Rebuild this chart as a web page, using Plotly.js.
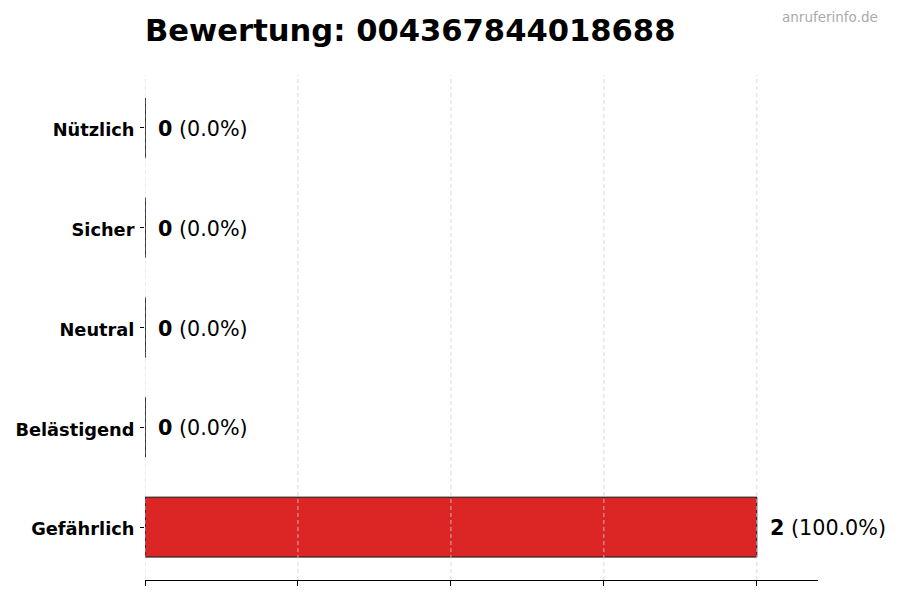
<!DOCTYPE html>
<html>
<head>
<meta charset="utf-8">
<script src="https://cdn.plot.ly/plotly-3.0.1.min.js"></script>
<style>
  body { margin: 0; background: #fff; }
  #chart { width: 900px; height: 600px; }
</style>
</head>
<body>
<div id="chart"></div>
<script>
// ratings for one phone number, bottom category first
var categories = ['Gefährlich', 'Belästigend', 'Neutral', 'Sicher', 'Nützlich'];
var counts = [2, 0, 0, 0, 0];
var barColors = ['#dc2626', '#dc2626', '#dc2626', '#dc2626', '#dc2626'];
var gridTicks = [0, 0.5, 1, 1.5, 2];
var titleText = 'Bewertung: 004367844018688';
var watermark = 'anruferinfo.de';

var total = counts.reduce(function (a, b) { return a + b; }, 0);
var font = 'DejaVu Sans, Verdana, sans-serif';

var trace = {
  type: 'bar',
  orientation: 'h',
  y: categories,
  x: counts,
  width: 0.6,
  marker: { color: barColors, line: { color: '#111', width: 1 } },
  hoverinfo: 'skip'
};

// value labels right of each bar
var annotations = categories.map(function (c, i) {
  var pct = total ? (counts[i] / total * 100).toFixed(1) : '0.0';
  return {
    x: counts[i], y: c, xref: 'x', yref: 'y',
    text: '<b>' + counts[i] + '</b> (' + pct + '%)',
    showarrow: false, xanchor: 'left', yanchor: 'middle', xshift: 11, yshift: -1,
    font: { family: font, size: 20.7, color: '#000' }
  };
});

annotations.push({
  text: watermark, xref: 'paper', yref: 'paper', x: 1.092, y: 1.115,
  xanchor: 'right', yanchor: 'middle', showarrow: false,
  font: { family: font, size: 13.5, color: '#aaa' }
});

// dashed grid drawn over the bars, plus edge of empty bars
var shapes = gridTicks.map(function (t) {
  return {
    type: 'line', xref: 'x', yref: 'paper', x0: t, x1: t, y0: 0, y1: 1,
    layer: 'above', line: { color: '#d0d0d0', width: 0.8, dash: '4px,3px' }
  };
});
categories.forEach(function (c, i) {
  if (counts[i] === 0) {
    shapes.push({
      type: 'line', xref: 'x', yref: 'y', x0: 0, x1: 0, y0: i - 0.3, y1: i + 0.3,
      layer: 'above', line: { color: '#222', width: 1 }
    });
  }
});

var layout = {
  width: 900, height: 600,
  margin: { l: 145, r: 82, t: 75, b: 20 },
  paper_bgcolor: '#fff', plot_bgcolor: '#fff',
  showlegend: false,
  title: {
    text: '<b>' + titleText + '</b>',
    xref: 'container', yref: 'container', x: 145 / 900, xanchor: 'left',
    y: 1 - 30 / 600, yanchor: 'middle',
    font: { family: font, size: 30.6, color: '#000' }
  },
  xaxis: {
    range: [0, 2.2], tickvals: gridTicks, showticklabels: false,
    ticks: 'outside', ticklen: 5, tickcolor: '#000', tickwidth: 1,
    showgrid: false, zeroline: false,
    showline: true, linecolor: '#000', linewidth: 1,
    fixedrange: true
  },
  yaxis: {
    type: 'category', range: [-0.53, 4.53],
    ticks: 'outside', ticklen: 4, tickcolor: '#000', tickwidth: 1,
    showline: false, showgrid: false, zeroline: false,
    tickfont: { family: font, size: 17.8, color: '#000', weight: 'bold' },
    ticklabelstandoff: 2, ticklabelshift: 2,
    fixedrange: true
  },
  annotations: annotations,
  shapes: shapes,
  bargap: 0.4
};

Plotly.newPlot('chart', [trace], layout, { displayModeBar: false, staticPlot: true });
</script>
</body>
</html>
